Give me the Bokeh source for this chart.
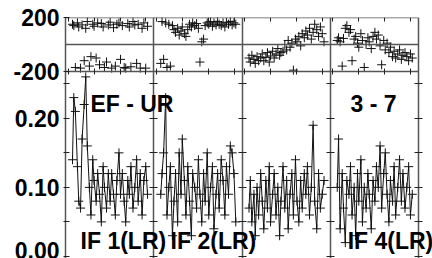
from bokeh.plotting import figure
from bokeh.models import Range1d, LinearAxis, FixedTicker, Label, NumeralTickFormatter
from bokeh.embed import file_html
from bokeh.resources import INLINE

# ---------------- data ----------------
times = [12.17, 12.22, 12.28, 12.36, 12.41, 12.48, 12.54, 12.62, 12.68, 12.74,
         12.82, 12.88, 12.95, 13.0, 13.08, 13.14, 13.21, 13.28, 13.35, 13.4,
         13.48, 13.55, 13.62, 13.68, 13.75, 13.82, 13.88, 13.96, 14.02, 14.09,
         14.16, 14.22, 14.3, 14.36, 14.42, 14.5, 14.57, 14.64, 14.7, 14.78,
         14.85, 14.92, 14.99, 15.06]

amp_if1 = [0.14, 0.23, 0.21, 0.13, 0.08, 0.07, 0.17, 0.22, 0.26, 0.16,
           0.10, 0.06, 0.14, 0.11, 0.08, 0.12, 0.09, 0.05, 0.13, 0.10,
           0.07, 0.12, 0.08, 0.12, 0.09, 0.06, 0.11, 0.15, 0.09, 0.12,
           0.08, 0.05, 0.11, 0.09, 0.13, 0.07, 0.10, 0.14, 0.08, 0.12,
           0.06, 0.11, 0.13, 0.09]
amp_if2 = [0.09, 0.12, 0.15, 0.23, 0.06, 0.10, 0.13, 0.03, 0.08, 0.12,
           0.05, 0.15, 0.09, 0.17, 0.11, 0.06, 0.13, 0.08, 0.03, 0.12,
           0.10, 0.07, 0.14, 0.09, 0.05, 0.12, 0.08, 0.15, 0.06, 0.10,
           0.13, 0.04, 0.09, 0.12, 0.07, 0.14, 0.11, 0.06, 0.13, 0.09,
           0.16, 0.15, 0.12, 0.05]
amp_if3 = [0.07, 0.11, 0.05, 0.09, 0.03, 0.10, 0.06, 0.12, 0.08, 0.04,
           0.11, 0.07, 0.13, 0.05, 0.09, 0.12, 0.06, 0.10, 0.03, 0.08,
           0.13, 0.07, 0.11, 0.04, 0.09, 0.12, 0.06, 0.14, 0.08, 0.05,
           0.11, 0.07, 0.12, 0.09, 0.13, 0.06, 0.10, 0.19, 0.08, 0.04,
           0.12, 0.07, 0.09, 0.11]
amp_if4 = [0.10, 0.17, 0.04, 0.12, 0.07, 0.02, 0.11, 0.09, 0.13, 0.06,
           0.10, 0.03, 0.12, 0.08, 0.14, 0.05, 0.10, 0.07, 0.12, 0.09,
           0.04, 0.11, 0.08, 0.13, 0.10, 0.16, 0.07, 0.12, 0.15, 0.09,
           0.05, 0.11, 0.08, 0.13, 0.06, 0.10, 0.14, 0.08, 0.12, 0.07,
           0.10, 0.13, 0.06, 0.09]

phase_if1 = [150, 140, -170, 160, 130, -175, 145, -120, 120, 170,
             -160, -90, 150, 135, -100, 160, -150, 155, 130, -170,
             -130, 145, 165, -175, 125, -160, 150, 160, -110, 140,
             -170, -175, 155, 130, -165, 170, 145, -140, 150, -175,
             120, 160, -175, 135]
phase_if2 = [-140, 170, -110, 160, -170, 150, -160, 140, 110, 90,
             120, 70, 100, 130, 80, 60, 110, 150, 130, 160,
             140, 155, 120, -130, 20, 40, 140, 160, 150, 170,
             135, 160, 145, 170, 150, 140, 160, 130, 165, 150,
             170, 145, 160, 150]
phase_if3 = [-100, -130, -80, -110, -140, -90, -120, -100, -70, -120,
             -95, -60, -130, -85, -50, -100, -70, -30, -80, -60,
             -50, 0, -40, 30, -20, 10, -190, 40, 20, 60,
             -10, 80, 50, 100, 70, 120, 40, 90, 150, 110,
             60, 130, 80, 20]
phase_if4 = [30, 50, 20, -160, 45, 120, 140, 90, 110, -120,
             40, 60, 10, -20, 80, 30, -170, 0, 50, 20,
             -30, 60, 90, 40, 70, -10, -150, 30, -40, 10,
             -60, -20, -90, -50, -100, -70, -40, -110, -80, -60,
             -90, -120, -70, -100]

baseline_label = "EF - UR"
scan_label = "3 - 7"
if_labels = ["IF 1(LR)", "IF 2(LR)", "IF 4(LR)"]
amp_ticks = [0.0, 0.1, 0.2]
amp_minor_ticks = [0.05, 0.15, 0.25]
phase_ticks = [-200, 200]
hour_ticks = [12, 13, 14, 15]

# ---------------- layout ----------------
T0, T1 = 11.9, 15.3
SPAN = T1 - T0
NIF = 4
XEND = NIF * SPAN * 367 / 353          # a little room right of the last panel
AMP_START, AMP_END = -0.003, 0.346
PH_START, PH_END = -1585.0, 200.0

FONT = "Liberation Sans"
FSIZE = "23px"
AXCOL = "#555555"
INK = "#111111"

p = figure(width=432, height=258, output_backend="svg", toolbar_location=None,
           x_range=Range1d(0, XEND), y_range=Range1d(AMP_START, AMP_END),
           x_axis_type=None, y_axis_type=None)
p.extra_y_ranges = {"phase": Range1d(PH_START, PH_END)}
p.min_border = 0
p.min_border_left = 65
p.min_border_right = 0
p.min_border_top = 17
p.min_border_bottom = 0
p.outline_line_color = None
p.background_fill_color = "white"
p.border_fill_color = "white"

amps = [amp_if1, amp_if2, amp_if3, amp_if4]
phases = [phase_if1, phase_if2, phase_if3, phase_if4]
for k in range(NIF):
    xs = [t - T0 + k * SPAN for t in times]
    p.line(xs, amps[k], line_color=INK, line_width=1)
    p.scatter(xs, amps[k], marker="cross", size=9, line_color=INK, line_width=1)
    p.scatter(xs, phases[k], marker="cross", size=9, line_color=INK,
              line_width=1, y_range_name="phase")

def style_axis(ax, labels=False):
    ax.axis_line_color = AXCOL
    ax.axis_line_width = 1.5
    ax.major_tick_line_color = "#222222"
    ax.minor_tick_line_color = "#222222"
    ax.major_label_text_font = FONT
    ax.major_label_text_font_style = "bold"
    ax.major_label_text_color = "black"
    ax.major_label_text_font_size = FSIZE if labels else "0px"
    if not labels:
        ax.major_label_text_alpha = 0

# phase tick positions expressed on the amplitude scale (same left axis)
def phase_on_amp(v):
    return round(AMP_END - (PH_END - v) * (AMP_END - AMP_START) / (PH_END - PH_START), 6)

ph_pos = [phase_on_amp(v) for v in phase_ticks]
left_axis = LinearAxis(ticker=FixedTicker(ticks=amp_ticks + ph_pos, minor_ticks=amp_minor_ticks),
                       formatter=NumeralTickFormatter(format="0.00"))
left_axis.major_label_overrides = {pos: str(v) for pos, v in zip(ph_pos, phase_ticks)}
style_axis(left_axis, labels=True)
left_axis.major_tick_in = 4
left_axis.major_tick_out = 2
left_axis.minor_tick_in = 4
left_axis.minor_tick_out = 2
left_axis.major_label_standoff = 4
p.add_layout(left_axis, "left")

# dividers between IF panels and right edge
for k in range(1, NIF + 1):
    ax = LinearAxis(ticker=FixedTicker(ticks=amp_ticks, minor_ticks=amp_minor_ticks),
                    fixed_location=k * SPAN)
    style_axis(ax)
    ax.major_tick_in = 4
    ax.major_tick_out = 4
    ax.minor_tick_in = 4
    ax.minor_tick_out = 4
    p.add_layout(ax, "left")

# time ticks along the phase panel (top edge and its lower edge), plus zero line
xticks = [h - T0 + k * SPAN for k in range(NIF) for h in hour_ticks]
for loc, tin, tout, side in [(200, 4, 0, "above"), (-200, 3, 3, "below"), (0, 0, 0, "below")]:
    ax = LinearAxis(ticker=FixedTicker(ticks=xticks if (tin or tout) else []),
                    y_range_name="phase", fixed_location=loc, bounds=(0, NIF * SPAN))
    style_axis(ax)
    ax.major_tick_in = tin
    ax.major_tick_out = tout
    ax.minor_tick_line_color = None
    p.add_layout(ax, side)

def add_label(x, y, text):
    p.add_layout(Label(x=x, y=y, text=text, text_font=FONT, text_font_style="bold",
                       text_font_size=FSIZE, text_color="black",
                       text_baseline="alphabetic"))

add_label(0.96, 0.2203, baseline_label)
add_label(10.98, 0.2203, scan_label)
add_label(0.58, 0.0217, if_labels[0])
add_label(4.05, 0.0217, if_labels[1])
add_label(10.87, 0.0217, if_labels[2])

open("out.html", "w").write(file_html(p, INLINE))
